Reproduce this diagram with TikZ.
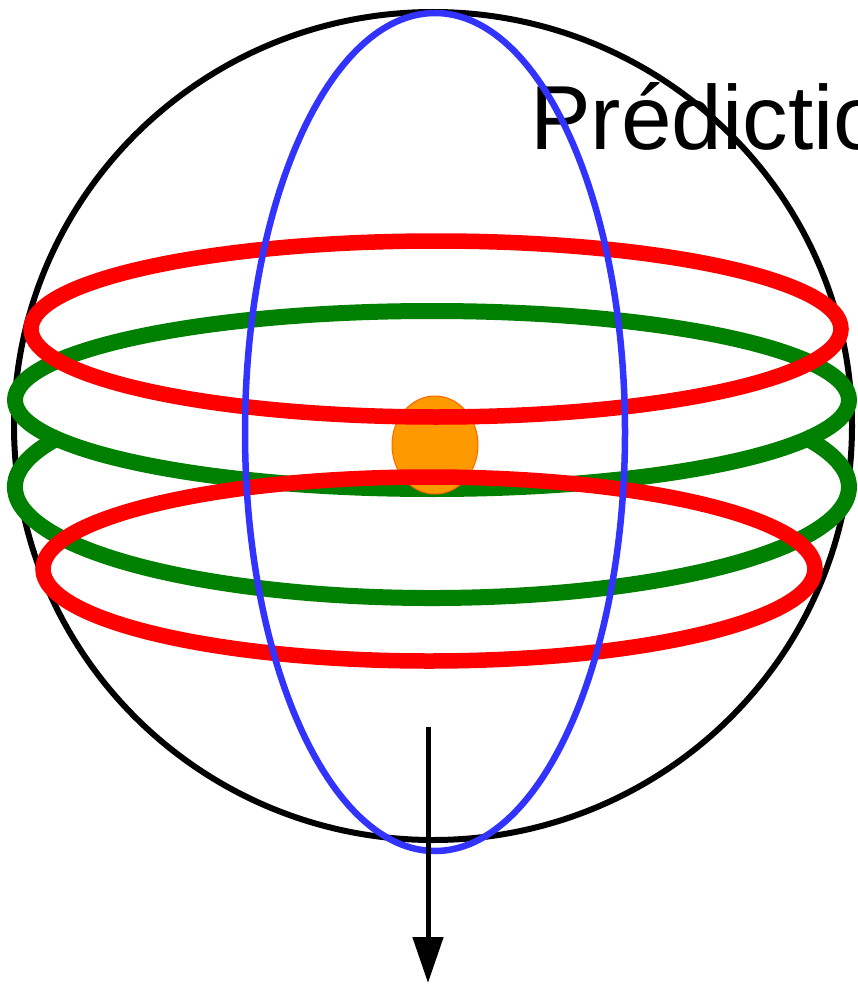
\documentclass[tikz,border=0pt]{standalone}
\usepackage{fontspec}
\setmainfont{Liberation Sans}
\usetikzlibrary{arrows.meta,shapes.geometric}

\definecolor{ringblue}{HTML}{3333FF}
\definecolor{ringgreen}{HTML}{008000}
\definecolor{dotorange}{HTML}{FF9900}
\definecolor{dotedge}{HTML}{FF6600}

\begin{document}
\begin{tikzpicture}[x=1pt, y=1pt,
  sphere/.style={draw=black, line width=6},
  meridian/.style={draw=ringblue, line width=6.5},
  spiral/.style={draw=ringgreen, line width=16},
  ring/.style={draw=red, line width=15.5},
  body/.style={ellipse, draw=dotedge, fill=dotorange, line width=1, minimum width=86, minimum height=98, inner sep=0pt},
  axis/.style={line width=5, -{Triangle[length=46, width=30]}}
]
\useasboundingbox (0,0) rectangle (857,-987);
\clip (0,0) rectangle (857,-987);
\node[anchor=base west, inner sep=0pt, font={\fontsize{91}{100}\selectfont}] (title) at (530,-150) {Prédiction};
% sphere outline
\draw[sphere] (433,-426) ellipse [x radius=419, y radius=414];
% green spiral
\draw[spiral] (432,-400) ellipse [x radius=417, y radius=89];
\draw[spiral] (60.4,-436.6) arc [start angle=153, end angle=387, x radius=417, y radius=111];
\node[body] (dot) at (435,-445) {};
% red rings
\draw[ring] (436,-329) ellipse [x radius=405, y radius=88];
\draw[ring] (429,-569) ellipse [x radius=386, y radius=92];
\draw[meridian] (435,-432) ellipse [x radius=190, y radius=419];
\coordinate (axtop) at (428,-727);
\coordinate (axtip) at (428,-983);
\draw[axis] (axtop) -- (axtip);
\end{tikzpicture}
\end{document}
